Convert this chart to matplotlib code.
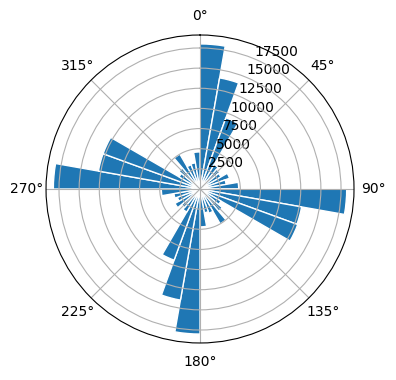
import numpy as np
import matplotlib
matplotlib.use("Agg")
import matplotlib.pyplot as plt

# bin start angles (deg, clockwise from north) and counts per 10-degree bin
angles_deg = np.arange(0, 360, 10)
counts = [18000, 14000, 9400, 3500, 3200, 3000, 3900, 3300, 4800,
          18200, 12800, 12900, 3000, 3600, 5000, 3200, 3000, 4700,
          18000, 14000, 9400, 3300, 3000, 3600, 3000, 3300, 4800,
          18200, 12800, 12800, 3000, 3400, 5000, 3200, 3300, 4600]

fig = plt.figure(figsize=(3.96, 3.8), dpi=100)
ax = fig.add_axes([0.1162, 0.0974, 0.7778, 0.8105], projection="polar")
ax.set_theta_zero_location("N")
ax.set_theta_direction(-1)

theta = np.deg2rad(angles_deg)
width = np.deg2rad(10)
ax.bar(theta, counts, width=width, align="edge", color="C0", edgecolor="white", linewidth=1)
ax.set_yticks([2500, 5000, 7500, 10000, 12500, 15000, 17500])

fig.savefig("out.png", dpi=100)
